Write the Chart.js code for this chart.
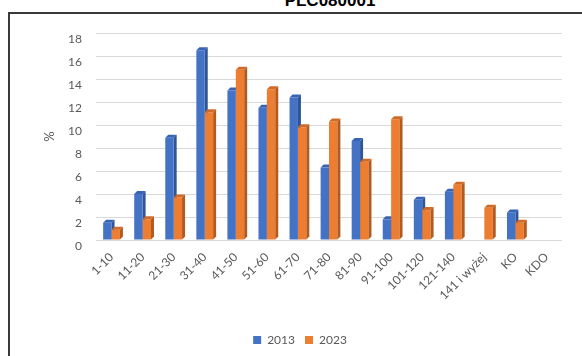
<!DOCTYPE html>
<html>
<head>
<meta charset="utf-8">
<script src="https://cdn.jsdelivr.net/npm/chart.js@4/dist/chart.umd.min.js"></script>
<style>
  html, body { margin: 0; padding: 0; width: 582px; height: 356px; overflow: hidden; background: #fff; }
  #title { position: absolute; left: 0; width: 660px; top: -8px; text-align: center;
           font: bold 17px "Liberation Sans", Arial, sans-serif; line-height: 17px; color: #000; }
  #frame { position: absolute; left: 8px; top: 12px; width: 700px; height: 400px;
           border-left: 2px solid #3a3a3a; border-top: 2px solid #3a3a3a; }
  #wrap { position: absolute; left: 10px; top: 0; width: 590px; height: 356px; }
</style>
</head>
<body>
<div id="title">PLC080001</div>
<div id="frame"></div>
<div id="wrap"><canvas id="chart"></canvas></div>
<script>
// data
const categories = ['1-10', '11-20', '21-30', '31-40', '41-50', '51-60', '61-70', '71-80',
                    '81-90', '91-100', '101-120', '121-140', '141 i wyżej', 'KO', 'KDO'];
const y2013 = [1.5, 4.0, 8.9, 16.5, 13.0, 11.5, 12.4, 6.3, 8.6, 1.8, 3.5, 4.2, null, 2.4, null];
const y2023 = [0.9, 1.8, 3.7, 11.1, 14.8, 13.1, 9.8, 10.3, 6.8, 10.5, 2.6, 4.8, 2.8, 1.5, null];
const yTicks = [0, 2, 4, 6, 8, 10, 12, 14, 16, 18];

const BLUE = '#4472C4', BLUE_SIDE = '#2F5597', BLUE_TOP = '#3763B5';
const ORANGE = '#ED7D31', ORANGE_SIDE = '#B35A1F', ORANGE_TOP = '#D06A25';
const DEPTH = 3;

// fake 3D: side + top face for each bar of a dataset
function drawDepth(chart, idx) {
  const ds = chart.data.datasets[idx];
  const meta = chart.getDatasetMeta(idx);
  const ctx = chart.ctx;
  ctx.save();
  meta.data.forEach((bar, i) => {
    if (ds.data[i] == null || ds.data[i] === 0) return;
    const p = bar.getProps(['x', 'y', 'base', 'width'], true);
    const l = p.x - p.width / 2, r = p.x + p.width / 2;
    ctx.fillStyle = ds.sideColor;
    ctx.beginPath();
    ctx.moveTo(r, p.y);
    ctx.lineTo(r + DEPTH, p.y - DEPTH);
    ctx.lineTo(r + DEPTH, p.base - DEPTH);
    ctx.lineTo(r, p.base);
    ctx.closePath();
    ctx.fill();
    ctx.fillStyle = ds.topColor;
    ctx.beginPath();
    ctx.moveTo(l, p.y);
    ctx.lineTo(l + DEPTH, p.y - DEPTH);
    ctx.lineTo(r + DEPTH, p.y - DEPTH);
    ctx.lineTo(r, p.y);
    ctx.closePath();
    ctx.fill();
  });
  ctx.restore();
}

const depthPlugin = {
  id: 'depth3d',
  // orange (index 1) is drawn first, then blue; blue's depth goes behind orange
  beforeDatasetDraw(chart, args) {
    if (args.index === 1) drawDepth(chart, 0);
  },
  afterDatasetDraw(chart, args) {
    if (args.index === 1) drawDepth(chart, 1);
  }
};

const FONT = 'Lato, "Liberation Sans", sans-serif';
const GREY = '#595959';

new Chart(document.getElementById('chart'), {
  type: 'bar',
  data: {
    labels: categories,
    datasets: [
      { label: '2013', data: y2013, backgroundColor: BLUE, sideColor: BLUE_SIDE, topColor: BLUE_TOP },
      { label: '2023', data: y2023, backgroundColor: ORANGE, sideColor: ORANGE_SIDE, topColor: ORANGE_TOP }
    ]
  },
  options: {
    responsive: true,
    maintainAspectRatio: false,
    animation: false,
    datasets: { bar: { categoryPercentage: 0.54, barPercentage: 1.0 } },
    layout: { padding: { left: 28, right: 38, top: 33, bottom: 0 } },
    scales: {
      x: {
        grid: { display: false },
        border: { display: false },
        ticks: { color: GREY, font: { family: FONT, size: 12 }, maxRotation: 45, minRotation: 45, padding: 2 },
        afterFit(scale) { scale.height = 84; }
      },
      y: {
        min: 0, max: 18,
        afterBuildTicks(scale) { scale.ticks = yTicks.map(v => ({ value: v })); },
        grid: { color: '#D9D9D9', lineWidth: 1, drawTicks: false },
        border: { display: false },
        ticks: { color: GREY, font: { family: FONT, size: 12 }, padding: 14, labelOffset: 6 },
        title: { display: true, text: '%', color: GREY, font: { family: FONT, size: 13 }, padding: 4 },
        afterFit(scale) { scale.width = 58; }
      }
    },
    plugins: {
      legend: {
        position: 'bottom',
        labels: { color: GREY, font: { family: FONT, size: 12 }, boxWidth: 8, boxHeight: 8, padding: 10 }
      },
      title: { display: false },
      tooltip: { enabled: false }
    }
  },
  plugins: [depthPlugin]
});
</script>
</body>
</html>
